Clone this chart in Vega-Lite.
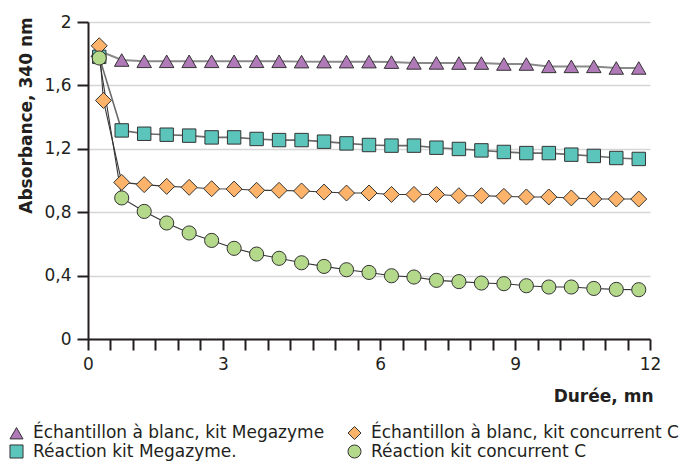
{
  "$schema": "https://vega.github.io/schema/vega-lite/v6.json",
  "autosize": {"type": "none"},
  "width": 562,
  "height": 317,
  "padding": {"left": 88, "top": 22, "right": 41, "bottom": 128},
  "background": "white",
  "datasets": {
    "pts": [
      {"s": "Échantillon à blanc, kit Megazyme", "t": 0.22, "a": 1.82},
      {"s": "Échantillon à blanc, kit Megazyme", "t": 0.72, "a": 1.76},
      {"s": "Échantillon à blanc, kit Megazyme", "t": 1.2, "a": 1.752},
      {"s": "Échantillon à blanc, kit Megazyme", "t": 1.68, "a": 1.752},
      {"s": "Échantillon à blanc, kit Megazyme", "t": 2.16, "a": 1.752},
      {"s": "Échantillon à blanc, kit Megazyme", "t": 2.64, "a": 1.752},
      {"s": "Échantillon à blanc, kit Megazyme", "t": 3.12, "a": 1.752},
      {"s": "Échantillon à blanc, kit Megazyme", "t": 3.6, "a": 1.752},
      {"s": "Échantillon à blanc, kit Megazyme", "t": 4.08, "a": 1.752},
      {"s": "Échantillon à blanc, kit Megazyme", "t": 4.56, "a": 1.75},
      {"s": "Échantillon à blanc, kit Megazyme", "t": 5.04, "a": 1.75},
      {"s": "Échantillon à blanc, kit Megazyme", "t": 5.52, "a": 1.75},
      {"s": "Échantillon à blanc, kit Megazyme", "t": 6.0, "a": 1.75},
      {"s": "Échantillon à blanc, kit Megazyme", "t": 6.48, "a": 1.747},
      {"s": "Échantillon à blanc, kit Megazyme", "t": 6.96, "a": 1.742},
      {"s": "Échantillon à blanc, kit Megazyme", "t": 7.44, "a": 1.742},
      {"s": "Échantillon à blanc, kit Megazyme", "t": 7.92, "a": 1.741},
      {"s": "Échantillon à blanc, kit Megazyme", "t": 8.4, "a": 1.741},
      {"s": "Échantillon à blanc, kit Megazyme", "t": 8.88, "a": 1.735},
      {"s": "Échantillon à blanc, kit Megazyme", "t": 9.36, "a": 1.735},
      {"s": "Échantillon à blanc, kit Megazyme", "t": 9.84, "a": 1.72},
      {"s": "Échantillon à blanc, kit Megazyme", "t": 10.32, "a": 1.72},
      {"s": "Échantillon à blanc, kit Megazyme", "t": 10.8, "a": 1.72},
      {"s": "Échantillon à blanc, kit Megazyme", "t": 11.28, "a": 1.71},
      {"s": "Échantillon à blanc, kit Megazyme", "t": 11.76, "a": 1.71},
      {"s": "Réaction kit Megazyme.", "t": 0.24, "a": 1.78},
      {"s": "Réaction kit Megazyme.", "t": 0.72, "a": 1.316},
      {"s": "Réaction kit Megazyme.", "t": 1.2, "a": 1.295},
      {"s": "Réaction kit Megazyme.", "t": 1.68, "a": 1.289},
      {"s": "Réaction kit Megazyme.", "t": 2.16, "a": 1.283},
      {"s": "Réaction kit Megazyme.", "t": 2.64, "a": 1.272},
      {"s": "Réaction kit Megazyme.", "t": 3.12, "a": 1.272},
      {"s": "Réaction kit Megazyme.", "t": 3.6, "a": 1.262},
      {"s": "Réaction kit Megazyme.", "t": 4.08, "a": 1.255},
      {"s": "Réaction kit Megazyme.", "t": 4.56, "a": 1.255},
      {"s": "Réaction kit Megazyme.", "t": 5.04, "a": 1.245},
      {"s": "Réaction kit Megazyme.", "t": 5.52, "a": 1.234},
      {"s": "Réaction kit Megazyme.", "t": 6.0, "a": 1.224},
      {"s": "Réaction kit Megazyme.", "t": 6.48, "a": 1.22},
      {"s": "Réaction kit Megazyme.", "t": 6.96, "a": 1.22},
      {"s": "Réaction kit Megazyme.", "t": 7.44, "a": 1.207},
      {"s": "Réaction kit Megazyme.", "t": 7.92, "a": 1.199},
      {"s": "Réaction kit Megazyme.", "t": 8.4, "a": 1.19},
      {"s": "Réaction kit Megazyme.", "t": 8.88, "a": 1.18},
      {"s": "Réaction kit Megazyme.", "t": 9.36, "a": 1.173},
      {"s": "Réaction kit Megazyme.", "t": 9.84, "a": 1.173},
      {"s": "Réaction kit Megazyme.", "t": 10.32, "a": 1.163},
      {"s": "Réaction kit Megazyme.", "t": 10.8, "a": 1.155},
      {"s": "Réaction kit Megazyme.", "t": 11.28, "a": 1.142},
      {"s": "Réaction kit Megazyme.", "t": 11.76, "a": 1.136},
      {"s": "Échantillon à blanc, kit concurrent C", "t": 0.24, "a": 1.85},
      {"s": "Échantillon à blanc, kit concurrent C", "t": 0.33, "a": 1.505},
      {"s": "Échantillon à blanc, kit concurrent C", "t": 0.72, "a": 0.988},
      {"s": "Échantillon à blanc, kit concurrent C", "t": 1.2, "a": 0.974},
      {"s": "Échantillon à blanc, kit concurrent C", "t": 1.68, "a": 0.963},
      {"s": "Échantillon à blanc, kit concurrent C", "t": 2.16, "a": 0.957},
      {"s": "Échantillon à blanc, kit concurrent C", "t": 2.64, "a": 0.948},
      {"s": "Échantillon à blanc, kit concurrent C", "t": 3.12, "a": 0.946},
      {"s": "Échantillon à blanc, kit concurrent C", "t": 3.6, "a": 0.938},
      {"s": "Échantillon à blanc, kit concurrent C", "t": 4.08, "a": 0.938},
      {"s": "Échantillon à blanc, kit concurrent C", "t": 4.56, "a": 0.934},
      {"s": "Échantillon à blanc, kit concurrent C", "t": 5.04, "a": 0.927},
      {"s": "Échantillon à blanc, kit concurrent C", "t": 5.52, "a": 0.921},
      {"s": "Échantillon à blanc, kit concurrent C", "t": 6.0, "a": 0.921},
      {"s": "Échantillon à blanc, kit concurrent C", "t": 6.48, "a": 0.912},
      {"s": "Échantillon à blanc, kit concurrent C", "t": 6.96, "a": 0.912},
      {"s": "Échantillon à blanc, kit concurrent C", "t": 7.44, "a": 0.912},
      {"s": "Échantillon à blanc, kit concurrent C", "t": 7.92, "a": 0.904},
      {"s": "Échantillon à blanc, kit concurrent C", "t": 8.4, "a": 0.904},
      {"s": "Échantillon à blanc, kit concurrent C", "t": 8.88, "a": 0.9},
      {"s": "Échantillon à blanc, kit concurrent C", "t": 9.36, "a": 0.896},
      {"s": "Échantillon à blanc, kit concurrent C", "t": 9.84, "a": 0.896},
      {"s": "Échantillon à blanc, kit concurrent C", "t": 10.32, "a": 0.89},
      {"s": "Échantillon à blanc, kit concurrent C", "t": 10.8, "a": 0.883},
      {"s": "Échantillon à blanc, kit concurrent C", "t": 11.28, "a": 0.883},
      {"s": "Échantillon à blanc, kit concurrent C", "t": 11.76, "a": 0.883},
      {"s": "Réaction kit concurrent C", "t": 0.24, "a": 1.773},
      {"s": "Réaction kit concurrent C", "t": 0.72, "a": 0.89},
      {"s": "Réaction kit concurrent C", "t": 1.2, "a": 0.805},
      {"s": "Réaction kit concurrent C", "t": 1.68, "a": 0.732},
      {"s": "Réaction kit concurrent C", "t": 2.16, "a": 0.669},
      {"s": "Réaction kit concurrent C", "t": 2.64, "a": 0.622},
      {"s": "Réaction kit concurrent C", "t": 3.12, "a": 0.572},
      {"s": "Réaction kit concurrent C", "t": 3.6, "a": 0.536},
      {"s": "Réaction kit concurrent C", "t": 4.08, "a": 0.509},
      {"s": "Réaction kit concurrent C", "t": 4.56, "a": 0.481},
      {"s": "Réaction kit concurrent C", "t": 5.04, "a": 0.458},
      {"s": "Réaction kit concurrent C", "t": 5.52, "a": 0.437},
      {"s": "Réaction kit concurrent C", "t": 6.0, "a": 0.42},
      {"s": "Réaction kit concurrent C", "t": 6.48, "a": 0.399},
      {"s": "Réaction kit concurrent C", "t": 6.96, "a": 0.391},
      {"s": "Réaction kit concurrent C", "t": 7.44, "a": 0.37},
      {"s": "Réaction kit concurrent C", "t": 7.92, "a": 0.362},
      {"s": "Réaction kit concurrent C", "t": 8.4, "a": 0.353},
      {"s": "Réaction kit concurrent C", "t": 8.88, "a": 0.349},
      {"s": "Réaction kit concurrent C", "t": 9.36, "a": 0.336},
      {"s": "Réaction kit concurrent C", "t": 9.84, "a": 0.328},
      {"s": "Réaction kit concurrent C", "t": 10.32, "a": 0.328},
      {"s": "Réaction kit concurrent C", "t": 10.8, "a": 0.319},
      {"s": "Réaction kit concurrent C", "t": 11.28, "a": 0.313},
      {"s": "Réaction kit concurrent C", "t": 11.76, "a": 0.311}
    ]
  },
  "data": {"name": "pts"},
  "encoding": {
    "x": {
      "field": "t", "type": "quantitative",
      "scale": {"domain": [0, 12], "nice": false, "zero": false},
      "axis": {
        "title": "Durée, mn",
        "values": [0, 0.48, 0.96, 1.44, 1.92, 2.4, 2.88, 3.36, 3.84, 4.32, 4.8, 5.28, 5.76, 6.24, 6.72, 7.2, 7.68, 8.16, 8.64, 9.12, 9.6, 10.08, 10.56, 11.04, 11.52, 12],
        "labelExpr": "datum.value < 0.1 ? '0' : abs(datum.value - 2.88) < 0.01 ? '3' : abs(datum.value - 6.24) < 0.01 ? '6' : abs(datum.value - 9.12) < 0.01 ? '9' : datum.value > 11.9 ? '12' : ''",
        "labelOverlap": false,
        "labelFlush": false,
        "grid": false,
        "tickSize": 11,
        "labelPadding": 6,
        "titleX": 565,
        "titleY": 62,
        "titleAlign": "right",
        "titleAnchor": null,
        "titleBaseline": "alphabetic"
      }
    },
    "y": {
      "field": "a", "type": "quantitative",
      "scale": {"domain": [0, 2], "nice": false},
      "axis": {
        "title": "Absorbance, 340 nm",
        "values": [0, 0.4, 0.8, 1.2, 1.6, 2],
        "labelExpr": "replace(format(datum.value, '.1~f'), '.', ',')",
        "grid": true,
        "gridColor": "#d6d6d6",
        "gridWidth": 1.5,
        "tickSize": 11,
        "labelPadding": 6,
        "titleAngle": -90,
        "titleX": -57,
        "titleY": 93,
        "titleAlign": "center",
        "titleBaseline": "alphabetic"
      }
    }
  },
  "layer": [
    {
      "mark": {"type": "line", "interpolate": "linear"},
      "encoding": {
        "detail": {"field": "s"},
        "color": {
          "field": "s", "type": "nominal", "legend": null,
          "scale": {
            "domain": ["Réaction kit concurrent C", "Réaction kit Megazyme.", "Échantillon à blanc, kit concurrent C", "Échantillon à blanc, kit Megazyme"],
            "range": ["#333333", "#6a6a6a", "#3a3a3a", "#8a8a8a"]
          }
        },
        "strokeWidth": {
          "field": "s", "type": "nominal", "legend": null,
          "scale": {
            "type": "ordinal",
            "domain": ["Réaction kit concurrent C", "Réaction kit Megazyme.", "Échantillon à blanc, kit concurrent C", "Échantillon à blanc, kit Megazyme"],
            "range": [1.1, 1.6, 1.1, 2]
          }
        }
      }
    },
    {
      "mark": {"type": "point", "filled": true, "opacity": 1, "stroke": "#333333", "strokeWidth": 1},
      "encoding": {
        "fill": {
          "field": "s", "type": "nominal",
          "scale": {
            "domain": ["Échantillon à blanc, kit Megazyme", "Échantillon à blanc, kit concurrent C", "Réaction kit Megazyme.", "Réaction kit concurrent C"],
            "range": ["#b07ab8", "#fdb46a", "#5bc5bb", "#b5d98a"]
          },
          "legend": {
            "title": null,
            "orient": "none",
            "legendX": -80,
            "legendY": 402,
            "direction": "horizontal",
            "columns": 2,
            "columnPadding": 20,
            "rowPadding": 0,
            "padding": 0,
            "symbolSize": 170,
            "symbolStrokeColor": "#333333",
            "symbolStrokeWidth": 1,
            "symbolOpacity": 1,
            "labelFont": "DejaVu Sans",
            "labelFontSize": 17,
            "labelColor": "#231f20",
            "labelOffset": 8,
            "labelLimit": 400
          }
        },
        "shape": {
          "field": "s", "type": "nominal",
          "scale": {
            "domain": ["Échantillon à blanc, kit Megazyme", "Échantillon à blanc, kit concurrent C", "Réaction kit Megazyme.", "Réaction kit concurrent C"],
            "range": ["triangle-up", "diamond", "square", "circle"]
          }
        },
        "size": {
          "field": "s", "type": "nominal", "legend": null,
          "scale": {
            "type": "ordinal",
            "domain": ["Réaction kit concurrent C", "Réaction kit Megazyme.", "Échantillon à blanc, kit concurrent C", "Échantillon à blanc, kit Megazyme"],
            "range": [200, 180, 256, 210]
          }
        }
      }
    }
  ],
  "config": {
    "view": {"stroke": null},
    "axis": {
      "domainColor": "#231f20",
      "domainWidth": 2,
      "tickColor": "#231f20",
      "tickWidth": 2,
      "labelFont": "DejaVu Sans",
      "labelFontSize": 17,
      "labelColor": "#231f20",
      "titleFont": "DejaVu Sans",
      "titleFontSize": 17,
      "titleFontWeight": "bold",
      "titleColor": "#231f20"
    }
  }
}
